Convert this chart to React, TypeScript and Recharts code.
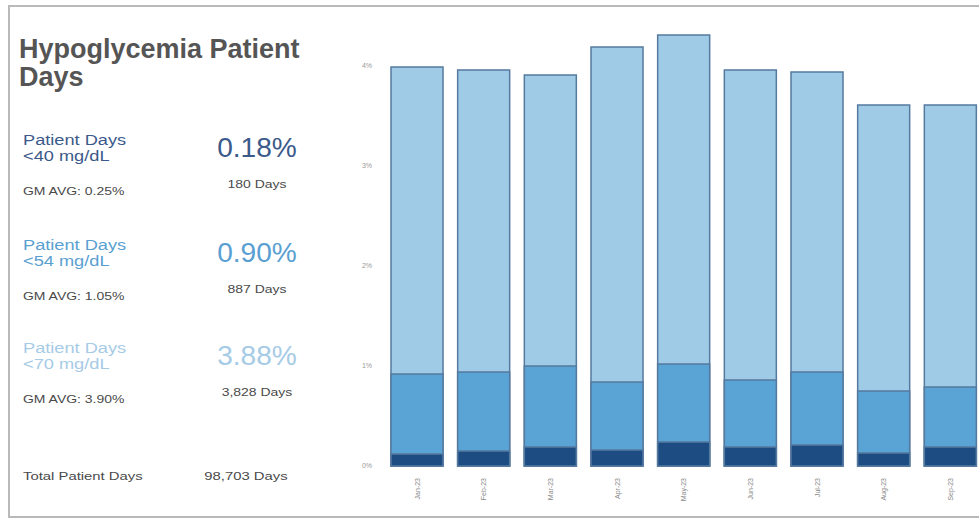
import React from "react";
import { BarChart, Bar, XAxis, YAxis } from "recharts";

// monthly share of patient days below each glucose threshold (%)
const months = ["Jan-23", "Feb-23", "Mar-23", "Apr-23", "May-23", "Jun-23", "Jul-23", "Aug-23", "Sep-23"];
const below70 = [3.99, 3.96, 3.91, 4.19, 4.31, 3.96, 3.94, 3.61, 3.61];
const below54 = [0.92, 0.94, 1.0, 0.84, 1.02, 0.86, 0.94, 0.75, 0.79];
const below40 = [0.12, 0.15, 0.19, 0.16, 0.24, 0.19, 0.21, 0.13, 0.19];
const yTicks = [0, 1, 2, 3, 4];

const data = months.map((m, i) => ({
  month: m,
  lt70: below70[i],
  lt54: below54[i],
  lt40: below40[i],
}));

const FONT = '"Liberation Sans", Arial, sans-serif';
const DARK = "#1d4c82";
const MID = "#5aa3d5";
const LIGHT = "#9fcbe7";
const EDGE = "#557a9e";

const summary = [
  { label: "<40 mg/dL", pct: "0.18%", days: "180 Days", gm: "GM AVG: 0.25%", color: "#3b5a8a", dy: 0 },
  { label: "<54 mg/dL", pct: "0.90%", days: "887 Days", gm: "GM AVG: 1.05%", color: "#5a9fd2", dy: 105 },
  { label: "<70 mg/dL", pct: "3.88%", days: "3,828 Days", gm: "GM AVG: 3.90%", color: "#a6cbe6", dy: 208 },
];

// the panel text is set a little wider than the font's natural width
function Txt({
  left,
  top,
  size,
  color,
  sx = 1,
  center,
  lineHeight,
  children,
}: {
  left: number;
  top: number;
  size: number;
  color: string;
  sx?: number;
  center?: boolean;
  lineHeight?: number;
  children: React.ReactNode;
}) {
  return (
    <div
      style={{
        position: "absolute",
        left: center ? left - 100 : left,
        width: center ? 200 : undefined,
        textAlign: center ? "center" : "left",
        top,
        fontSize: size,
        lineHeight: lineHeight ? `${lineHeight}px` : 1,
        color,
        whiteSpace: "nowrap",
        transform: `scaleX(${sx})`,
        transformOrigin: center ? "center" : "left",
      }}
    >
      {children}
    </div>
  );
}

function MonthTick({ x, y, payload }: { x?: number; y?: number; payload?: { value: string } }) {
  return (
    <text
      transform={`translate(${x},${(y ?? 0) + 4}) rotate(-90)`}
      textAnchor="end"
      dy="0.35em"
      fontSize={7}
      fill="#888"
      fontFamily={FONT}
    >
      {payload?.value}
    </text>
  );
}

export default function App() {
  return (
    <div style={{ position: "relative", width: 979, height: 528, overflow: "hidden", background: "#fff", fontFamily: FONT }}>
      <style>{"body{margin:0}"}</style>
      <div
        style={{
          position: "absolute",
          left: 8,
          top: 5,
          width: 1000,
          height: 513,
          border: "2px solid #b9b9b9",
          boxSizing: "border-box",
        }}
      />

      <div style={{ position: "absolute", left: 19, top: 35, fontSize: 27, fontWeight: 700, color: "#555", lineHeight: "28px" }}>
        Hypoglycemia Patient
        <br />
        Days
      </div>

      {summary.map((s) => (
        <React.Fragment key={s.label}>
          <Txt left={23} top={132 + s.dy} size={14} color={s.color} sx={1.3} lineHeight={16}>
            Patient Days
            <br />
            {s.label}
          </Txt>
          <Txt left={23} top={186 + s.dy} size={11} color="#4a4a4a" sx={1.27}>
            {s.gm}
          </Txt>
          <Txt left={257} top={135 + s.dy} size={27} color={s.color} sx={1.04} center>
            {s.pct}
          </Txt>
          <Txt left={257} top={179 + s.dy} size={11} color="#4a4a4a" sx={1.27} center>
            {s.days}
          </Txt>
        </React.Fragment>
      ))}

      <Txt left={23} top={471} size={11} color="#4a4a4a" sx={1.35}>
        Total Patient Days
      </Txt>
      <Txt left={246} top={471} size={11} color="#4a4a4a" sx={1.35} center>
        98,703 Days
      </Txt>

      <div style={{ position: "absolute", left: 340, top: 0 }}>
        <BarChart
          width={644}
          height={528}
          data={data}
          margin={{ top: 16, right: 0, bottom: 22, left: 0 }}
          barGap={-52}
        >
          <XAxis
            dataKey="month"
            axisLine={false}
            tickLine={false}
            height={40}
            interval={0}
            tick={<MonthTick />}
          />
          <YAxis
            width={44}
            domain={[0, 4.5]}
            ticks={yTicks}
            axisLine={false}
            tickLine={false}
            tickMargin={6}
            tickFormatter={(v) => `${v}%`}
            tick={{ fontSize: 7, fill: "#999", fontFamily: FONT }}
          />
          <Bar dataKey="lt70" barSize={52} fill={LIGHT} stroke={EDGE} strokeWidth={1.5} isAnimationActive={false} />
          <Bar dataKey="lt54" barSize={52} fill={MID} stroke={EDGE} strokeWidth={1.5} isAnimationActive={false} />
          <Bar dataKey="lt40" barSize={52} fill={DARK} stroke={EDGE} strokeWidth={1.5} isAnimationActive={false} />
        </BarChart>
      </div>
    </div>
  );
}
